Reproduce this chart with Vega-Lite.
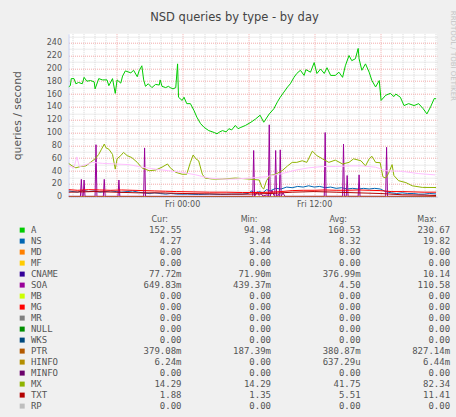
{
  "$schema": "https://vega.github.io/schema/vega-lite/v6.json",
  "background": "#f0f0f0",
  "padding": {"left": 10.5, "top": 9.7, "right": 2, "bottom": 5.8},
  "spacing": 27.9,
  "bounds": "flush",
  "config": {"view": {"stroke": null}, "font": "DejaVu Sans"},
  "resolve": {"scale": {"x": "independent", "y": "independent"}},
  "datasets": {
    "series": [
      {"s":"A","t":"2024-01-04T13:40","v":171},{"s":"A","t":"2024-01-04T13:50","v":173},{"s":"A","t":"2024-01-04T13:55","v":184},{"s":"A","t":"2024-01-04T14:10","v":184},{"s":"A","t":"2024-01-04T14:20","v":176},{"s":"A","t":"2024-01-04T14:35","v":178},{"s":"A","t":"2024-01-04T14:55","v":176},{"s":"A","t":"2024-01-04T15:05","v":186},{"s":"A","t":"2024-01-04T15:20","v":180},{"s":"A","t":"2024-01-04T15:40","v":181},{"s":"A","t":"2024-01-04T16:00","v":179},{"s":"A","t":"2024-01-04T16:05","v":168},{"s":"A","t":"2024-01-04T16:25","v":184},{"s":"A","t":"2024-01-04T16:45","v":182},{"s":"A","t":"2024-01-04T17:10","v":182},{"s":"A","t":"2024-01-04T17:20","v":173},{"s":"A","t":"2024-01-04T17:40","v":184},{"s":"A","t":"2024-01-04T17:55","v":161},{"s":"A","t":"2024-01-04T18:05","v":182},{"s":"A","t":"2024-01-04T18:25","v":177},{"s":"A","t":"2024-01-04T18:35","v":188},{"s":"A","t":"2024-01-04T18:50","v":196},{"s":"A","t":"2024-01-04T19:20","v":193},{"s":"A","t":"2024-01-04T19:35","v":197},{"s":"A","t":"2024-01-04T19:55","v":187},{"s":"A","t":"2024-01-04T20:05","v":196},{"s":"A","t":"2024-01-04T20:20","v":204},{"s":"A","t":"2024-01-04T20:30","v":182},{"s":"A","t":"2024-01-04T20:40","v":172},{"s":"A","t":"2024-01-04T20:55","v":176},{"s":"A","t":"2024-01-04T21:15","v":170},{"s":"A","t":"2024-01-04T21:35","v":175},{"s":"A","t":"2024-01-04T21:55","v":174},{"s":"A","t":"2024-01-04T22:00","v":182},{"s":"A","t":"2024-01-04T22:10","v":172},{"s":"A","t":"2024-01-04T22:30","v":170},{"s":"A","t":"2024-01-04T22:45","v":172},{"s":"A","t":"2024-01-04T22:55","v":170},{"s":"A","t":"2024-01-04T23:10","v":168},{"s":"A","t":"2024-01-04T23:25","v":170},{"s":"A","t":"2024-01-04T23:35","v":207},{"s":"A","t":"2024-01-04T23:40","v":155},{"s":"A","t":"2024-01-05T00:00","v":150},{"s":"A","t":"2024-01-05T00:10","v":155},{"s":"A","t":"2024-01-05T00:25","v":145},{"s":"A","t":"2024-01-05T00:45","v":145},{"s":"A","t":"2024-01-05T01:05","v":134},{"s":"A","t":"2024-01-05T01:20","v":124},{"s":"A","t":"2024-01-05T01:40","v":114},{"s":"A","t":"2024-01-05T02:00","v":108},{"s":"A","t":"2024-01-05T02:25","v":103},{"s":"A","t":"2024-01-05T02:55","v":100},{"s":"A","t":"2024-01-05T03:10","v":98},{"s":"A","t":"2024-01-05T03:25","v":101},{"s":"A","t":"2024-01-05T03:40","v":103},{"s":"A","t":"2024-01-05T04:00","v":101},{"s":"A","t":"2024-01-05T04:15","v":106},{"s":"A","t":"2024-01-05T04:30","v":104},{"s":"A","t":"2024-01-05T04:50","v":111},{"s":"A","t":"2024-01-05T05:05","v":106},{"s":"A","t":"2024-01-05T05:20","v":108},{"s":"A","t":"2024-01-05T05:45","v":111},{"s":"A","t":"2024-01-05T06:15","v":116},{"s":"A","t":"2024-01-05T06:40","v":121},{"s":"A","t":"2024-01-05T07:05","v":127},{"s":"A","t":"2024-01-05T07:25","v":116},{"s":"A","t":"2024-01-05T07:55","v":129},{"s":"A","t":"2024-01-05T08:20","v":137},{"s":"A","t":"2024-01-05T08:40","v":148},{"s":"A","t":"2024-01-05T08:55","v":155},{"s":"A","t":"2024-01-05T09:15","v":163},{"s":"A","t":"2024-01-05T09:35","v":171},{"s":"A","t":"2024-01-05T09:50","v":176},{"s":"A","t":"2024-01-05T10:10","v":186},{"s":"A","t":"2024-01-05T10:25","v":192},{"s":"A","t":"2024-01-05T10:45","v":197},{"s":"A","t":"2024-01-05T11:05","v":189},{"s":"A","t":"2024-01-05T11:15","v":198},{"s":"A","t":"2024-01-05T11:40","v":194},{"s":"A","t":"2024-01-05T12:00","v":209},{"s":"A","t":"2024-01-05T12:15","v":192},{"s":"A","t":"2024-01-05T12:35","v":199},{"s":"A","t":"2024-01-05T12:55","v":192},{"s":"A","t":"2024-01-05T13:10","v":201},{"s":"A","t":"2024-01-05T13:30","v":189},{"s":"A","t":"2024-01-05T13:55","v":189},{"s":"A","t":"2024-01-05T14:15","v":194},{"s":"A","t":"2024-01-05T14:35","v":186},{"s":"A","t":"2024-01-05T14:50","v":204},{"s":"A","t":"2024-01-05T15:10","v":220},{"s":"A","t":"2024-01-05T15:25","v":212},{"s":"A","t":"2024-01-05T15:45","v":215},{"s":"A","t":"2024-01-05T16:00","v":231},{"s":"A","t":"2024-01-05T16:05","v":215},{"s":"A","t":"2024-01-05T16:20","v":197},{"s":"A","t":"2024-01-05T16:40","v":207},{"s":"A","t":"2024-01-05T17:00","v":194},{"s":"A","t":"2024-01-05T17:15","v":181},{"s":"A","t":"2024-01-05T17:35","v":171},{"s":"A","t":"2024-01-05T17:55","v":181},{"s":"A","t":"2024-01-05T18:05","v":150},{"s":"A","t":"2024-01-05T18:30","v":158},{"s":"A","t":"2024-01-05T18:55","v":161},{"s":"A","t":"2024-01-05T19:15","v":156},{"s":"A","t":"2024-01-05T19:25","v":160},{"s":"A","t":"2024-01-05T19:50","v":155},{"s":"A","t":"2024-01-05T20:10","v":142},{"s":"A","t":"2024-01-05T20:35","v":145},{"s":"A","t":"2024-01-05T21:05","v":142},{"s":"A","t":"2024-01-05T21:30","v":145},{"s":"A","t":"2024-01-05T21:55","v":137},{"s":"A","t":"2024-01-05T22:15","v":129},{"s":"A","t":"2024-01-05T22:35","v":140},{"s":"A","t":"2024-01-05T22:55","v":153},{"s":"A","t":"2024-01-05T23:05","v":152.55},

      {"s":"NS","t":"2024-01-04T13:40","v":9},{"s":"NS","t":"2024-01-04T14:30","v":7},{"s":"NS","t":"2024-01-04T15:00","v":10},{"s":"NS","t":"2024-01-04T15:30","v":8},{"s":"NS","t":"2024-01-04T16:00","v":9},{"s":"NS","t":"2024-01-04T16:30","v":7},{"s":"NS","t":"2024-01-04T17:00","v":8},{"s":"NS","t":"2024-01-04T17:30","v":9},{"s":"NS","t":"2024-01-04T18:00","v":8},{"s":"NS","t":"2024-01-04T18:30","v":7},{"s":"NS","t":"2024-01-04T19:00","v":8},{"s":"NS","t":"2024-01-04T19:30","v":9},{"s":"NS","t":"2024-01-04T20:00","v":7},{"s":"NS","t":"2024-01-04T20:30","v":6},{"s":"NS","t":"2024-01-04T21:00","v":5},{"s":"NS","t":"2024-01-04T21:30","v":6},{"s":"NS","t":"2024-01-04T22:00","v":5},{"s":"NS","t":"2024-01-04T22:30","v":4},{"s":"NS","t":"2024-01-04T23:00","v":5},{"s":"NS","t":"2024-01-04T23:30","v":4},{"s":"NS","t":"2024-01-05T00:30","v":4},{"s":"NS","t":"2024-01-05T01:30","v":3.5},{"s":"NS","t":"2024-01-05T02:30","v":4},{"s":"NS","t":"2024-01-05T03:30","v":3.5},{"s":"NS","t":"2024-01-05T04:30","v":4},{"s":"NS","t":"2024-01-05T05:30","v":4},{"s":"NS","t":"2024-01-05T06:00","v":5},{"s":"NS","t":"2024-01-05T06:20","v":9},{"s":"NS","t":"2024-01-05T06:40","v":4},{"s":"NS","t":"2024-01-05T07:00","v":8},{"s":"NS","t":"2024-01-05T07:20","v":6},{"s":"NS","t":"2024-01-05T07:40","v":11},{"s":"NS","t":"2024-01-05T08:00","v":9},{"s":"NS","t":"2024-01-05T08:30","v":13},{"s":"NS","t":"2024-01-05T09:00","v":12},{"s":"NS","t":"2024-01-05T09:30","v":15},{"s":"NS","t":"2024-01-05T10:00","v":14},{"s":"NS","t":"2024-01-05T10:30","v":16},{"s":"NS","t":"2024-01-05T11:00","v":15},{"s":"NS","t":"2024-01-05T11:30","v":17},{"s":"NS","t":"2024-01-05T12:00","v":15},{"s":"NS","t":"2024-01-05T12:30","v":16},{"s":"NS","t":"2024-01-05T13:00","v":14},{"s":"NS","t":"2024-01-05T13:30","v":15},{"s":"NS","t":"2024-01-05T14:00","v":13},{"s":"NS","t":"2024-01-05T14:30","v":14},{"s":"NS","t":"2024-01-05T15:00","v":12},{"s":"NS","t":"2024-01-05T15:30","v":13},{"s":"NS","t":"2024-01-05T16:00","v":12},{"s":"NS","t":"2024-01-05T16:30","v":13},{"s":"NS","t":"2024-01-05T17:00","v":12},{"s":"NS","t":"2024-01-05T17:30","v":13},{"s":"NS","t":"2024-01-05T18:00","v":12},{"s":"NS","t":"2024-01-05T18:30","v":8},{"s":"NS","t":"2024-01-05T19:00","v":6},{"s":"NS","t":"2024-01-05T19:30","v":5},{"s":"NS","t":"2024-01-05T20:00","v":6},{"s":"NS","t":"2024-01-05T20:30","v":5},{"s":"NS","t":"2024-01-05T21:00","v":5},{"s":"NS","t":"2024-01-05T21:30","v":4},{"s":"NS","t":"2024-01-05T22:00","v":4},{"s":"NS","t":"2024-01-05T22:30","v":5},{"s":"NS","t":"2024-01-05T23:05","v":4.3},

      {"s":"SOA","t":"2024-01-04T13:40","v":0.6},{"s":"SOA","t":"2024-01-04T14:45","v":0.6},{"s":"SOA","t":"2024-01-04T14:50","v":27},{"s":"SOA","t":"2024-01-04T14:55","v":0.6},{"s":"SOA","t":"2024-01-04T15:00","v":0.6},{"s":"SOA","t":"2024-01-04T15:05","v":26},{"s":"SOA","t":"2024-01-04T15:10","v":0.6},{"s":"SOA","t":"2024-01-04T16:05","v":0.6},{"s":"SOA","t":"2024-01-04T16:10","v":81},{"s":"SOA","t":"2024-01-04T16:15","v":0.6},{"s":"SOA","t":"2024-01-04T16:50","v":0.6},{"s":"SOA","t":"2024-01-04T16:55","v":27},{"s":"SOA","t":"2024-01-04T17:00","v":0.6},{"s":"SOA","t":"2024-01-04T18:10","v":0.6},{"s":"SOA","t":"2024-01-04T18:15","v":26},{"s":"SOA","t":"2024-01-04T18:20","v":0.6},{"s":"SOA","t":"2024-01-04T20:30","v":0.6},{"s":"SOA","t":"2024-01-04T20:35","v":76},{"s":"SOA","t":"2024-01-04T20:40","v":0.6},{"s":"SOA","t":"2024-01-05T06:25","v":0.6},{"s":"SOA","t":"2024-01-05T06:30","v":72},{"s":"SOA","t":"2024-01-05T06:35","v":0.6},{"s":"SOA","t":"2024-01-05T06:50","v":8},{"s":"SOA","t":"2024-01-05T07:00","v":2},{"s":"SOA","t":"2024-01-05T07:10","v":5},{"s":"SOA","t":"2024-01-05T07:20","v":1},{"s":"SOA","t":"2024-01-05T07:45","v":3},{"s":"SOA","t":"2024-01-05T07:50","v":0.6},{"s":"SOA","t":"2024-01-05T07:55","v":112},{"s":"SOA","t":"2024-01-05T08:00","v":0.6},{"s":"SOA","t":"2024-01-05T08:10","v":10},{"s":"SOA","t":"2024-01-05T08:20","v":2},{"s":"SOA","t":"2024-01-05T08:25","v":0.6},{"s":"SOA","t":"2024-01-05T08:30","v":72},{"s":"SOA","t":"2024-01-05T08:35","v":0.6},{"s":"SOA","t":"2024-01-05T08:45","v":4},{"s":"SOA","t":"2024-01-05T08:50","v":0.6},{"s":"SOA","t":"2024-01-05T08:55","v":73},{"s":"SOA","t":"2024-01-05T09:00","v":0.6},{"s":"SOA","t":"2024-01-05T09:10","v":6},{"s":"SOA","t":"2024-01-05T09:20","v":0.6},{"s":"SOA","t":"2024-01-05T12:55","v":0.6},{"s":"SOA","t":"2024-01-05T13:00","v":100},{"s":"SOA","t":"2024-01-05T13:05","v":0.6},{"s":"SOA","t":"2024-01-05T14:35","v":0.6},{"s":"SOA","t":"2024-01-05T14:40","v":82},{"s":"SOA","t":"2024-01-05T14:45","v":0.6},{"s":"SOA","t":"2024-01-05T14:55","v":0.6},{"s":"SOA","t":"2024-01-05T15:00","v":33},{"s":"SOA","t":"2024-01-05T15:05","v":0.6},{"s":"SOA","t":"2024-01-05T16:00","v":0.6},{"s":"SOA","t":"2024-01-05T16:05","v":34},{"s":"SOA","t":"2024-01-05T16:10","v":0.6},{"s":"SOA","t":"2024-01-05T18:30","v":0.6},{"s":"SOA","t":"2024-01-05T18:35","v":77},{"s":"SOA","t":"2024-01-05T18:40","v":0.6},{"s":"SOA","t":"2024-01-05T23:05","v":0.65},

      {"s":"PTR","t":"2024-01-04T13:40","v":0.4},{"s":"PTR","t":"2024-01-05T02:00","v":0.3},{"s":"PTR","t":"2024-01-05T14:00","v":0.5},{"s":"PTR","t":"2024-01-05T23:05","v":0.38},

      {"s":"MX","t":"2024-01-04T13:40","v":52},{"s":"MX","t":"2024-01-04T14:00","v":48},{"s":"MX","t":"2024-01-04T14:20","v":45},{"s":"MX","t":"2024-01-04T14:45","v":47},{"s":"MX","t":"2024-01-04T15:15","v":48},{"s":"MX","t":"2024-01-04T15:40","v":53.5},{"s":"MX","t":"2024-01-04T16:05","v":59},{"s":"MX","t":"2024-01-04T16:25","v":66},{"s":"MX","t":"2024-01-04T16:40","v":74},{"s":"MX","t":"2024-01-04T16:55","v":82},{"s":"MX","t":"2024-01-04T17:05","v":76},{"s":"MX","t":"2024-01-04T17:20","v":74},{"s":"MX","t":"2024-01-04T17:40","v":66},{"s":"MX","t":"2024-01-04T17:55","v":43},{"s":"MX","t":"2024-01-04T18:05","v":59},{"s":"MX","t":"2024-01-04T18:25","v":64},{"s":"MX","t":"2024-01-04T18:40","v":69},{"s":"MX","t":"2024-01-04T19:00","v":64},{"s":"MX","t":"2024-01-04T19:25","v":61},{"s":"MX","t":"2024-01-04T19:55","v":53.5},{"s":"MX","t":"2024-01-04T20:20","v":45},{"s":"MX","t":"2024-01-04T21:00","v":40.5},{"s":"MX","t":"2024-01-04T21:35","v":41.5},{"s":"MX","t":"2024-01-04T22:10","v":46},{"s":"MX","t":"2024-01-04T22:40","v":51},{"s":"MX","t":"2024-01-04T22:55","v":45},{"s":"MX","t":"2024-01-04T23:25","v":38},{"s":"MX","t":"2024-01-05T00:00","v":35},{"s":"MX","t":"2024-01-05T00:25","v":35},{"s":"MX","t":"2024-01-05T00:45","v":53.5},{"s":"MX","t":"2024-01-05T01:00","v":65},{"s":"MX","t":"2024-01-05T01:15","v":59},{"s":"MX","t":"2024-01-05T01:30","v":56},{"s":"MX","t":"2024-01-05T01:50","v":35},{"s":"MX","t":"2024-01-05T02:05","v":29},{"s":"MX","t":"2024-01-05T02:45","v":27.5},{"s":"MX","t":"2024-01-05T03:40","v":27.5},{"s":"MX","t":"2024-01-05T04:50","v":29},{"s":"MX","t":"2024-01-05T06:05","v":27.5},{"s":"MX","t":"2024-01-05T07:00","v":26},{"s":"MX","t":"2024-01-05T07:15","v":14.5},{"s":"MX","t":"2024-01-05T07:25","v":12},{"s":"MX","t":"2024-01-05T07:40","v":25},{"s":"MX","t":"2024-01-05T08:00","v":33},{"s":"MX","t":"2024-01-05T08:30","v":35},{"s":"MX","t":"2024-01-05T09:05","v":40.5},{"s":"MX","t":"2024-01-05T09:35","v":48},{"s":"MX","t":"2024-01-05T10:00","v":53.5},{"s":"MX","t":"2024-01-05T10:25","v":53.5},{"s":"MX","t":"2024-01-05T10:55","v":56},{"s":"MX","t":"2024-01-05T11:20","v":53.5},{"s":"MX","t":"2024-01-05T11:50","v":71},{"s":"MX","t":"2024-01-05T12:15","v":64},{"s":"MX","t":"2024-01-05T12:45","v":59},{"s":"MX","t":"2024-01-05T13:20","v":53.5},{"s":"MX","t":"2024-01-05T13:55","v":57},{"s":"MX","t":"2024-01-05T14:35","v":51},{"s":"MX","t":"2024-01-05T15:10","v":53.5},{"s":"MX","t":"2024-01-05T15:35","v":59},{"s":"MX","t":"2024-01-05T16:15","v":56},{"s":"MX","t":"2024-01-05T16:40","v":48},{"s":"MX","t":"2024-01-05T17:00","v":59},{"s":"MX","t":"2024-01-05T17:15","v":63},{"s":"MX","t":"2024-01-05T17:35","v":53.5},{"s":"MX","t":"2024-01-05T18:00","v":53},{"s":"MX","t":"2024-01-05T18:15","v":31},{"s":"MX","t":"2024-01-05T18:30","v":29},{"s":"MX","t":"2024-01-05T18:45","v":36},{"s":"MX","t":"2024-01-05T19:05","v":50},{"s":"MX","t":"2024-01-05T19:15","v":33},{"s":"MX","t":"2024-01-05T19:40","v":25},{"s":"MX","t":"2024-01-05T20:20","v":22},{"s":"MX","t":"2024-01-05T20:55","v":17},{"s":"MX","t":"2024-01-05T21:50","v":14.5},{"s":"MX","t":"2024-01-05T23:05","v":14.29},

      {"s":"TXT","t":"2024-01-04T13:40","v":7},{"s":"TXT","t":"2024-01-04T16:00","v":8},{"s":"TXT","t":"2024-01-04T18:00","v":7},{"s":"TXT","t":"2024-01-04T20:00","v":6},{"s":"TXT","t":"2024-01-04T22:00","v":6},{"s":"TXT","t":"2024-01-05T00:00","v":5},{"s":"TXT","t":"2024-01-05T02:00","v":4.5},{"s":"TXT","t":"2024-01-05T04:00","v":4},{"s":"TXT","t":"2024-01-05T06:00","v":4},{"s":"TXT","t":"2024-01-05T08:00","v":5},{"s":"TXT","t":"2024-01-05T10:00","v":7},{"s":"TXT","t":"2024-01-05T12:00","v":8},{"s":"TXT","t":"2024-01-05T14:00","v":7},{"s":"TXT","t":"2024-01-05T16:00","v":6},{"s":"TXT","t":"2024-01-05T18:00","v":5},{"s":"TXT","t":"2024-01-05T20:00","v":3},{"s":"TXT","t":"2024-01-05T22:00","v":2.5},{"s":"TXT","t":"2024-01-05T23:05","v":1.9},

      {"s":"AAAA","t":"2024-01-04T13:40","v":48},{"s":"AAAA","t":"2024-01-04T14:10","v":45},{"s":"AAAA","t":"2024-01-04T14:25","v":62},{"s":"AAAA","t":"2024-01-04T14:40","v":47},{"s":"AAAA","t":"2024-01-04T14:55","v":48},{"s":"AAAA","t":"2024-01-04T15:50","v":53.5},{"s":"AAAA","t":"2024-01-04T16:45","v":52},{"s":"AAAA","t":"2024-01-04T17:55","v":51},{"s":"AAAA","t":"2024-01-04T19:10","v":50},{"s":"AAAA","t":"2024-01-04T20:20","v":46},{"s":"AAAA","t":"2024-01-04T21:35","v":43},{"s":"AAAA","t":"2024-01-04T22:45","v":40.5},{"s":"AAAA","t":"2024-01-05T00:00","v":38},{"s":"AAAA","t":"2024-01-05T01:15","v":34},{"s":"AAAA","t":"2024-01-05T02:25","v":29},{"s":"AAAA","t":"2024-01-05T03:40","v":27.5},{"s":"AAAA","t":"2024-01-05T04:50","v":27.5},{"s":"AAAA","t":"2024-01-05T06:05","v":29},{"s":"AAAA","t":"2024-01-05T07:35","v":31},{"s":"AAAA","t":"2024-01-05T09:05","v":36},{"s":"AAAA","t":"2024-01-05T10:20","v":41.5},{"s":"AAAA","t":"2024-01-05T11:30","v":45},{"s":"AAAA","t":"2024-01-05T12:45","v":47},{"s":"AAAA","t":"2024-01-05T13:55","v":47},{"s":"AAAA","t":"2024-01-05T15:10","v":48},{"s":"AAAA","t":"2024-01-05T16:20","v":48},{"s":"AAAA","t":"2024-01-05T17:35","v":46},{"s":"AAAA","t":"2024-01-05T18:30","v":40.5},{"s":"AAAA","t":"2024-01-05T20:00","v":39.5},{"s":"AAAA","t":"2024-01-05T21:30","v":36},{"s":"AAAA","t":"2024-01-05T23:00","v":34},

      {"s":"DS","t":"2024-01-04T13:40","v":11},{"s":"DS","t":"2024-01-04T14:30","v":10},{"s":"DS","t":"2024-01-04T15:30","v":11},{"s":"DS","t":"2024-01-04T16:30","v":10.5},{"s":"DS","t":"2024-01-04T17:30","v":10},{"s":"DS","t":"2024-01-04T18:30","v":10.5},{"s":"DS","t":"2024-01-04T19:30","v":10},{"s":"DS","t":"2024-01-04T20:30","v":9.5},{"s":"DS","t":"2024-01-04T21:30","v":9},{"s":"DS","t":"2024-01-04T22:30","v":8.5},{"s":"DS","t":"2024-01-04T23:30","v":8},{"s":"DS","t":"2024-01-05T01:00","v":7.5},{"s":"DS","t":"2024-01-05T02:30","v":7},{"s":"DS","t":"2024-01-05T04:00","v":7},{"s":"DS","t":"2024-01-05T05:30","v":6.5},{"s":"DS","t":"2024-01-05T07:00","v":6.5},{"s":"DS","t":"2024-01-05T08:00","v":7},{"s":"DS","t":"2024-01-05T09:00","v":8},{"s":"DS","t":"2024-01-05T10:00","v":9.5},{"s":"DS","t":"2024-01-05T11:00","v":10},{"s":"DS","t":"2024-01-05T12:00","v":10},{"s":"DS","t":"2024-01-05T13:00","v":10.5},{"s":"DS","t":"2024-01-05T14:00","v":10},{"s":"DS","t":"2024-01-05T15:00","v":10},{"s":"DS","t":"2024-01-05T16:00","v":10.5},{"s":"DS","t":"2024-01-05T17:00","v":10},{"s":"DS","t":"2024-01-05T18:00","v":9.5},{"s":"DS","t":"2024-01-05T19:00","v":8},{"s":"DS","t":"2024-01-05T20:00","v":8},{"s":"DS","t":"2024-01-05T21:00","v":7.5},{"s":"DS","t":"2024-01-05T22:00","v":7},{"s":"DS","t":"2024-01-05T23:05","v":7}
    ],
    "legend": [
      {"type":"A","Cur":"152.55\u00a0","Min":"94.98\u00a0","Avg":"160.53\u00a0","Max":"230.67\u00a0"},
      {"type":"NS","Cur":"4.27\u00a0","Min":"3.44\u00a0","Avg":"8.32\u00a0","Max":"19.82\u00a0"},
      {"type":"MD","Cur":"0.00\u00a0","Min":"0.00\u00a0","Avg":"0.00\u00a0","Max":"0.00\u00a0"},
      {"type":"MF","Cur":"0.00\u00a0","Min":"0.00\u00a0","Avg":"0.00\u00a0","Max":"0.00\u00a0"},
      {"type":"CNAME","Cur":"77.72m","Min":"71.90m","Avg":"376.99m","Max":"10.14\u00a0"},
      {"type":"SOA","Cur":"649.83m","Min":"439.37m","Avg":"4.50\u00a0","Max":"110.58\u00a0"},
      {"type":"MB","Cur":"0.00\u00a0","Min":"0.00\u00a0","Avg":"0.00\u00a0","Max":"0.00\u00a0"},
      {"type":"MG","Cur":"0.00\u00a0","Min":"0.00\u00a0","Avg":"0.00\u00a0","Max":"0.00\u00a0"},
      {"type":"MR","Cur":"0.00\u00a0","Min":"0.00\u00a0","Avg":"0.00\u00a0","Max":"0.00\u00a0"},
      {"type":"NULL","Cur":"0.00\u00a0","Min":"0.00\u00a0","Avg":"0.00\u00a0","Max":"0.00\u00a0"},
      {"type":"WKS","Cur":"0.00\u00a0","Min":"0.00\u00a0","Avg":"0.00\u00a0","Max":"0.00\u00a0"},
      {"type":"PTR","Cur":"379.08m","Min":"187.39m","Avg":"380.87m","Max":"827.14m"},
      {"type":"HINFO","Cur":"6.24m","Min":"0.00\u00a0","Avg":"637.29u","Max":"6.44m"},
      {"type":"MINFO","Cur":"0.00\u00a0","Min":"0.00\u00a0","Avg":"0.00\u00a0","Max":"0.00\u00a0"},
      {"type":"MX","Cur":"14.29\u00a0","Min":"14.29\u00a0","Avg":"41.75\u00a0","Max":"82.34\u00a0"},
      {"type":"TXT","Cur":"1.88\u00a0","Min":"1.35\u00a0","Avg":"5.51\u00a0","Max":"11.41\u00a0"},
      {"type":"RP","Cur":"0.00\u00a0","Min":"0.00\u00a0","Avg":"0.00\u00a0","Max":"0.00\u00a0"}
    ]
  },
  "vconcat": [
    {
      "width": 368.5,
      "height": 163,
      "view": {"fill": "white", "stroke": null},
      "title": {"text": "NSD queries by type - by day", "anchor": "middle", "frame": "group", "dx": -18.3, "offset": 1.6, "baseline": "alphabetic", "font": "DejaVu Sans", "fontSize": 11.5, "fontWeight": "normal", "color": "#444"},
      "data": {"name": "series"},
      "layer": [
        {
          "transform": [{"filter": "datum.s === 'A'"}],
          "mark": {"type": "line", "strokeWidth": 1, "clip": true},
          "encoding": {
            "x": {"field": "t", "type": "temporal",
              "scale": {"domain": [{"year": 2024, "month": 1, "date": 4, "hours": 13, "minutes": 40}, {"year": 2024, "month": 1, "date": 5, "hours": 23, "minutes": 10}]},
              "axis": {"orient": "bottom", "title": null, "grid": true, "gridColor": "#f2aaaa", "gridDash": [1, 1], "gridWidth": 1, "ticks": false, "tickSize": 0,
                "values": [{"year": 2024, "month": 1, "date": 4, "hours": 18}, {"year": 2024, "month": 1, "date": 5, "hours": 0}, {"year": 2024, "month": 1, "date": 5, "hours": 6}, {"year": 2024, "month": 1, "date": 5, "hours": 12}, {"year": 2024, "month": 1, "date": 5, "hours": 18}],
                "labelExpr": "hours(datum.value) % 12 === 0 ? timeFormat(datum.value, '%a %H:%M') : ''",
                "labelFont": "DejaVu Sans", "labelFontSize": 8, "labelColor": "#555", "labelPadding": 3.5, "labelFlush": false, "labelOverlap": false,
                "domain": true, "domainColor": "#c8cff0", "domainWidth": 1}},
            "y": {"field": "v", "type": "quantitative",
              "scale": {"domain": [0, 254], "nice": false, "zero": false},
              "axis": {"orient": "left", "values": [0, 20, 40, 60, 80, 100, 120, 140, 160, 180, 200, 220, 240], "grid": true, "gridColor": "#f2aaaa", "gridDash": [1, 1], "gridWidth": 1, "ticks": false, "tickSize": 0,
                "labelFont": "DejaVu Sans", "labelFontSize": 8, "labelColor": "#555", "labelPadding": 7,
                "domain": true, "domainColor": "#c8cff0", "domainWidth": 1,
                "title": "queries / second", "titleX": -51.5, "titleY": 81.5, "titleAngle": 270, "titleBaseline": "middle", "titleAlign": "center", "titleFont": "DejaVu Sans", "titleFontSize": 10.8, "titleFontWeight": "normal", "titleColor": "#555"}},
            "color": {"field": "s", "type": "nominal", "legend": null,
              "scale": {"domain": ["A","NS","MD","MF","CNAME","SOA","MB","MG","MR","NULL","WKS","PTR","HINFO","MINFO","MX","TXT","RP","AFSDB","AAAA","DS"],
                "range": ["#00cc00","#0066b3","#ff8000","#ffcc00","#330099","#990099","#ccff00","#ff0000","#808080","#008f00","#00487d","#b35a00","#b38f00","#6b006b","#8fb300","#b30000","#bebebe","#80ff80","#ffbfff","#ff0000"]}}
          }
        },
        {
          "transform": [{"filter": "datum.s !== 'A'"}],
          "mark": {"type": "line", "strokeWidth": 1, "clip": true},
          "encoding": {
            "x": {"field": "t", "type": "temporal",
              "axis": {"orient": "top", "title": null, "labels": false, "ticks": false, "domain": false, "grid": true, "gridColor": "#d6d6d6", "gridDash": [1, 1], "gridWidth": 1,
                "values": [{"year": 2024, "month": 1, "date": 4, "hours": 14}, {"year": 2024, "month": 1, "date": 4, "hours": 15}, {"year": 2024, "month": 1, "date": 4, "hours": 16}, {"year": 2024, "month": 1, "date": 4, "hours": 17}, {"year": 2024, "month": 1, "date": 4, "hours": 19}, {"year": 2024, "month": 1, "date": 4, "hours": 20}, {"year": 2024, "month": 1, "date": 4, "hours": 21}, {"year": 2024, "month": 1, "date": 4, "hours": 22}, {"year": 2024, "month": 1, "date": 4, "hours": 23}, {"year": 2024, "month": 1, "date": 5, "hours": 1}, {"year": 2024, "month": 1, "date": 5, "hours": 2}, {"year": 2024, "month": 1, "date": 5, "hours": 3}, {"year": 2024, "month": 1, "date": 5, "hours": 4}, {"year": 2024, "month": 1, "date": 5, "hours": 5}, {"year": 2024, "month": 1, "date": 5, "hours": 7}, {"year": 2024, "month": 1, "date": 5, "hours": 8}, {"year": 2024, "month": 1, "date": 5, "hours": 9}, {"year": 2024, "month": 1, "date": 5, "hours": 10}, {"year": 2024, "month": 1, "date": 5, "hours": 11}, {"year": 2024, "month": 1, "date": 5, "hours": 13}, {"year": 2024, "month": 1, "date": 5, "hours": 14}, {"year": 2024, "month": 1, "date": 5, "hours": 15}, {"year": 2024, "month": 1, "date": 5, "hours": 16}, {"year": 2024, "month": 1, "date": 5, "hours": 17}, {"year": 2024, "month": 1, "date": 5, "hours": 19}, {"year": 2024, "month": 1, "date": 5, "hours": 20}, {"year": 2024, "month": 1, "date": 5, "hours": 21}, {"year": 2024, "month": 1, "date": 5, "hours": 22}, {"year": 2024, "month": 1, "date": 5, "hours": 23}]}},
            "y": {"field": "v", "type": "quantitative",
              "axis": {"orient": "right", "title": null, "labels": false, "ticks": false, "domain": false, "grid": true, "gridColor": "#d6d6d6", "gridDash": [1, 1], "gridWidth": 1,
                "values": [10, 30, 50, 70, 90, 110, 130, 150, 170, 190, 210, 230, 250]}},
            "color": {"field": "s", "type": "nominal", "legend": null,
              "scale": {"domain": ["A","NS","MD","MF","CNAME","SOA","MB","MG","MR","NULL","WKS","PTR","HINFO","MINFO","MX","TXT","RP","AFSDB","AAAA","DS"],
                "range": ["#00cc00","#0066b3","#ff8000","#ffcc00","#330099","#990099","#ccff00","#ff0000","#808080","#008f00","#00487d","#b35a00","#b38f00","#6b006b","#8fb300","#b30000","#bebebe","#80ff80","#ffbfff","#ff0000"]}}
          }
        }
      ],
      "resolve": {"axis": {"x": "independent", "y": "independent"}}
    },
    {
      "width": 368.5,
      "height": {"step": 11},
      "view": {"fill": null, "stroke": null},
      "data": {"name": "legend"},
      "encoding": {
        "y": {"field": "type", "type": "nominal", "sort": null,
          "scale": {"type": "point", "domain": ["A","NS","MD","MF","CNAME","SOA","MB","MG","MR","NULL","WKS","PTR","HINFO","MINFO","MX","TXT","RP"], "padding": 0.5},
          "axis": {"orient": "right", "labels": false, "ticks": false, "domain": false, "grid": false,
            "title": "RRDTOOL / TOBI OETIKER", "titleX": 15.5, "titleY": -169.2, "titleAngle": 90, "titleAlign": "center", "titleBaseline": "middle", "titleFont": "DejaVu Sans", "titleFontSize": 7, "titleFontWeight": "normal", "titleColor": "#c4c4c4"}}
      },
      "layer": [
        {
          "encoding": {
            "x": {"datum": "sw", "type": "nominal", "scale": {"type": "point", "domain": ["sw"], "range": [-46.3, -46.3], "padding": 0}, "axis": null}
          },
          "layer": [
            {"mark": {"type": "square", "size": 25, "filled": true, "opacity": 1},
             "encoding": {"color": {"field": "type", "type": "nominal", "legend": null,
               "scale": {"domain": ["A","NS","MD","MF","CNAME","SOA","MB","MG","MR","NULL","WKS","PTR","HINFO","MINFO","MX","TXT","RP","AFSDB","AAAA","DS"],
                 "range": ["#00cc00","#0066b3","#ff8000","#ffcc00","#330099","#990099","#ccff00","#ff0000","#808080","#008f00","#00487d","#b35a00","#b38f00","#6b006b","#8fb300","#b30000","#bebebe","#80ff80","#ffbfff","#ff0000"]}}}},
            {"mark": {"type": "text", "align": "left", "baseline": "middle", "dx": 8.7, "font": "DejaVu Sans Mono", "fontSize": 9, "color": "#555"},
             "encoding": {"text": {"field": "type"}}}
          ]
        },
        {
          "transform": [{"fold": ["Cur", "Min", "Avg", "Max"], "as": ["stat", "val"]}],
          "mark": {"type": "text", "align": "right", "baseline": "middle", "font": "DejaVu Sans Mono", "fontSize": 9, "color": "#555"},
          "encoding": {
            "x": {"field": "stat", "type": "nominal", "scale": {"type": "point", "domain": ["Cur", "Min", "Avg", "Max"], "range": [113, 381.6], "padding": 0},
              "axis": {"orient": "top", "title": null, "ticks": false, "tickSize": 0, "domain": false, "grid": false,
                "labelExpr": "datum.value + ':'", "labelAlign": "right", "labelOffset": -14, "labelBaseline": "middle", "labelPadding": 5, "labelAngle": 0,
                "labelFont": "DejaVu Sans", "labelFontSize": 8, "labelColor": "#555"}},
            "text": {"field": "val"}
          }
        }
      ],
      "resolve": {"scale": {"x": "independent"}, "axis": {"x": "independent"}}
    }
  ]
}
